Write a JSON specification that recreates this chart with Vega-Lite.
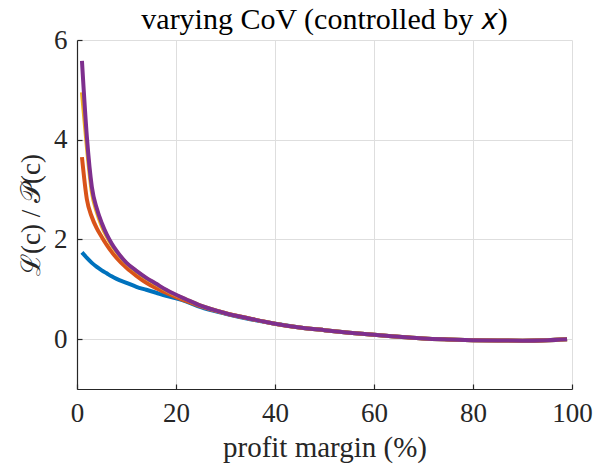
{
  "$schema": "https://vega.github.io/schema/vega-lite/v6.json",
  "autosize": "none",
  "padding": {"left": 77, "top": 40, "right": 25, "bottom": 81},
  "width": 495,
  "height": 349,
  "background": "white",
  "title": {
    "text": "varying CoV (controlled by 𝑥)",
    "font": "Liberation Serif",
    "fontSize": 30,
    "fontWeight": "normal",
    "color": "#000000",
    "anchor": "middle",
    "offset": -9
  },
  "config": {
    "view": {"stroke": null},
    "axis": {
      "labelFont": "Liberation Serif",
      "labelFontSize": 27,
      "labelColor": "#262626",
      "labelFlush": false,
      "titleFont": "Liberation Serif",
      "titleFontSize": 29,
      "titleFontWeight": "normal",
      "titleColor": "#262626",
      "domainColor": "#262626",
      "domainWidth": 1.2,
      "tickColor": "#262626",
      "tickSize": -5,
      "tickWidth": 1.2,
      "gridColor": "#dedede",
      "gridWidth": 1
    }
  },
  "data": {
    "values": [
      {"s": 1, "x": 1, "y": 1.74}, {"s": 1, "x": 2, "y": 1.63}, {"s": 1, "x": 3, "y": 1.53}, {"s": 1, "x": 4, "y": 1.45},
      {"s": 1, "x": 5, "y": 1.38}, {"s": 1, "x": 6, "y": 1.32}, {"s": 1, "x": 7, "y": 1.26}, {"s": 1, "x": 8, "y": 1.21},
      {"s": 1, "x": 10, "y": 1.13}, {"s": 1, "x": 12, "y": 1.05}, {"s": 1, "x": 14, "y": 0.99}, {"s": 1, "x": 16, "y": 0.93},
      {"s": 1, "x": 18, "y": 0.87}, {"s": 1, "x": 20, "y": 0.82}, {"s": 1, "x": 22, "y": 0.76}, {"s": 1, "x": 25, "y": 0.64},
      {"s": 1, "x": 30, "y": 0.51}, {"s": 1, "x": 35, "y": 0.40}, {"s": 1, "x": 40, "y": 0.31}, {"s": 1, "x": 45, "y": 0.235},
      {"s": 1, "x": 50, "y": 0.18}, {"s": 1, "x": 55, "y": 0.13}, {"s": 1, "x": 60, "y": 0.086}, {"s": 1, "x": 65, "y": 0.05},
      {"s": 1, "x": 70, "y": 0.015}, {"s": 1, "x": 75, "y": -0.005}, {"s": 1, "x": 80, "y": -0.02}, {"s": 1, "x": 85, "y": -0.028},
      {"s": 1, "x": 90, "y": -0.03}, {"s": 1, "x": 95, "y": -0.02}, {"s": 1, "x": 99, "y": 0.0},

      {"s": 2, "x": 1, "y": 3.65}, {"s": 2, "x": 2, "y": 2.80}, {"s": 2, "x": 3, "y": 2.45}, {"s": 2, "x": 4, "y": 2.22},
      {"s": 2, "x": 5, "y": 2.05}, {"s": 2, "x": 6, "y": 1.89}, {"s": 2, "x": 7, "y": 1.75}, {"s": 2, "x": 8, "y": 1.63},
      {"s": 2, "x": 10, "y": 1.43}, {"s": 2, "x": 12, "y": 1.27}, {"s": 2, "x": 14, "y": 1.13}, {"s": 2, "x": 16, "y": 1.02},
      {"s": 2, "x": 18, "y": 0.93}, {"s": 2, "x": 20, "y": 0.84}, {"s": 2, "x": 22, "y": 0.77}, {"s": 2, "x": 25, "y": 0.66},
      {"s": 2, "x": 30, "y": 0.52}, {"s": 2, "x": 35, "y": 0.41}, {"s": 2, "x": 40, "y": 0.31}, {"s": 2, "x": 45, "y": 0.235},
      {"s": 2, "x": 50, "y": 0.18}, {"s": 2, "x": 55, "y": 0.13}, {"s": 2, "x": 60, "y": 0.086}, {"s": 2, "x": 65, "y": 0.05},
      {"s": 2, "x": 70, "y": 0.015}, {"s": 2, "x": 75, "y": -0.005}, {"s": 2, "x": 80, "y": -0.02}, {"s": 2, "x": 85, "y": -0.028},
      {"s": 2, "x": 90, "y": -0.03}, {"s": 2, "x": 95, "y": -0.02}, {"s": 2, "x": 99, "y": 0.0},

      {"s": 3, "x": 1, "y": 4.95}, {"s": 3, "x": 2, "y": 3.85}, {"s": 3, "x": 3, "y": 2.95}, {"s": 3, "x": 4, "y": 2.55},
      {"s": 3, "x": 5, "y": 2.27}, {"s": 3, "x": 6, "y": 2.06}, {"s": 3, "x": 7, "y": 1.89}, {"s": 3, "x": 8, "y": 1.75},
      {"s": 3, "x": 10, "y": 1.52}, {"s": 3, "x": 12, "y": 1.36}, {"s": 3, "x": 14, "y": 1.22}, {"s": 3, "x": 16, "y": 1.10},
      {"s": 3, "x": 18, "y": 0.98}, {"s": 3, "x": 20, "y": 0.88}, {"s": 3, "x": 22, "y": 0.80}, {"s": 3, "x": 25, "y": 0.67},
      {"s": 3, "x": 30, "y": 0.52}, {"s": 3, "x": 35, "y": 0.41}, {"s": 3, "x": 40, "y": 0.31}, {"s": 3, "x": 45, "y": 0.235},
      {"s": 3, "x": 50, "y": 0.18}, {"s": 3, "x": 55, "y": 0.13}, {"s": 3, "x": 60, "y": 0.086}, {"s": 3, "x": 65, "y": 0.05},
      {"s": 3, "x": 70, "y": 0.015}, {"s": 3, "x": 75, "y": -0.005}, {"s": 3, "x": 80, "y": -0.02}, {"s": 3, "x": 85, "y": -0.028},
      {"s": 3, "x": 90, "y": -0.03}, {"s": 3, "x": 95, "y": -0.02}, {"s": 3, "x": 99, "y": 0.0},

      {"s": 4, "x": 1, "y": 5.58}, {"s": 4, "x": 2, "y": 4.05}, {"s": 4, "x": 3, "y": 3.05}, {"s": 4, "x": 4, "y": 2.62},
      {"s": 4, "x": 5, "y": 2.33}, {"s": 4, "x": 6, "y": 2.10}, {"s": 4, "x": 7, "y": 1.92}, {"s": 4, "x": 8, "y": 1.77},
      {"s": 4, "x": 10, "y": 1.53}, {"s": 4, "x": 12, "y": 1.37}, {"s": 4, "x": 14, "y": 1.23}, {"s": 4, "x": 16, "y": 1.11},
      {"s": 4, "x": 18, "y": 0.99}, {"s": 4, "x": 20, "y": 0.89}, {"s": 4, "x": 22, "y": 0.80}, {"s": 4, "x": 25, "y": 0.67},
      {"s": 4, "x": 30, "y": 0.52}, {"s": 4, "x": 35, "y": 0.41}, {"s": 4, "x": 40, "y": 0.31}, {"s": 4, "x": 45, "y": 0.235},
      {"s": 4, "x": 50, "y": 0.18}, {"s": 4, "x": 55, "y": 0.13}, {"s": 4, "x": 60, "y": 0.086}, {"s": 4, "x": 65, "y": 0.05},
      {"s": 4, "x": 70, "y": 0.015}, {"s": 4, "x": 75, "y": -0.005}, {"s": 4, "x": 80, "y": -0.02}, {"s": 4, "x": 85, "y": -0.028},
      {"s": 4, "x": 90, "y": -0.03}, {"s": 4, "x": 95, "y": -0.02}, {"s": 4, "x": 99, "y": 0.0}
    ]
  },
  "mark": {"type": "line", "strokeWidth": 4, "interpolate": "monotone"},
  "encoding": {
    "x": {
      "field": "x",
      "type": "quantitative",
      "scale": {"domain": [0, 100], "nice": false},
      "axis": {"values": [0, 20, 40, 60, 80, 100], "title": "profit margin (%)", "labelPadding": 16, "titlePadding": 7}
    },
    "y": {
      "field": "y",
      "type": "quantitative",
      "scale": {"domain": [-1, 6], "nice": false, "zero": false},
      "axis": {"values": [0, 2, 4, 6], "title": "ℒ(c) / 𝒫(c)", "titleFontSize": 27, "labelPadding": 15, "titlePadding": 8}
    },
    "color": {
      "field": "s",
      "type": "nominal",
      "scale": {"domain": [1, 2, 3, 4], "range": ["#0072BD", "#D95319", "#EDB120", "#7E2F8E"]},
      "legend": null
    },
    "order": {"field": "x", "type": "quantitative"}
  }
}
